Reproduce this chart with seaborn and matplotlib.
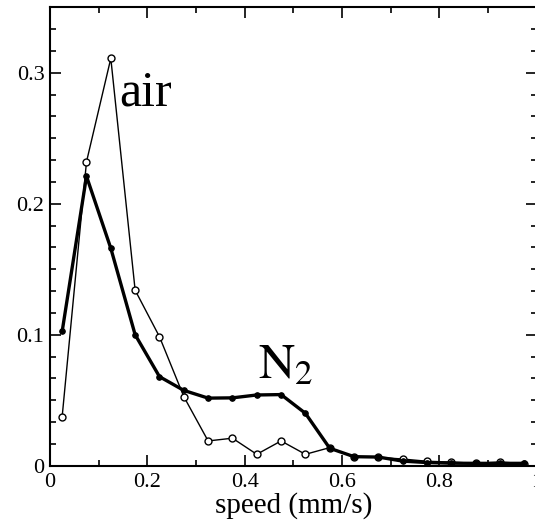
import numpy as np
import pandas as pd
import matplotlib
matplotlib.use("Agg")
import matplotlib.pyplot as plt
import seaborn as sns
from matplotlib.ticker import MultipleLocator, AutoMinorLocator, FuncFormatter

# Speed bins (bin centres, mm/s)
speed = [0.025, 0.075, 0.125, 0.175, 0.225, 0.275, 0.325, 0.375, 0.425, 0.475,
         0.525, 0.575, 0.625, 0.675, 0.725, 0.775, 0.825, 0.875, 0.925, 0.975]

# Distribution in air (open circles, thin line)
air = [0.0375, 0.232, 0.311, 0.134, 0.0985, 0.0528, 0.0189, 0.021, 0.0087, 0.0189,
       0.0087, 0.0138, 0.0064, 0.0064, 0.0051, 0.0034, 0.0028, 0.0018, 0.0028, 0.0016]

# Distribution in N2 (filled circles, thick line)
n2 = [0.1025, 0.221, 0.166, 0.100, 0.068, 0.0575, 0.0516, 0.0518, 0.054, 0.0543,
      0.040, 0.0133, 0.0069, 0.0066, 0.0035, 0.0024, 0.0019, 0.0018, 0.0018, 0.0018]

sns.set_style("ticks")
plt.rcParams['font.family'] = ['Liberation Serif', 'DejaVu Serif']
plt.rcParams['mathtext.fontset'] = 'stix'
# plain black text everywhere, like the original
for key in ['text.color', 'axes.labelcolor', 'xtick.color', 'ytick.color', 'axes.edgecolor']:
    plt.rcParams[key] = 'black'

fig = plt.figure(figsize=(5.35, 5.25), dpi=100)
# right spine sits just past the image edge, as in the reference
ax = fig.add_axes([50 / 535, 59.3 / 525, 486.5 / 535, 458.4 / 525])

sns.lineplot(x=speed, y=air, ax=ax, color='black', linewidth=1.0,
             marker='o', markersize=5, markerfacecolor='white',
             markeredgecolor='black', markeredgewidth=1.0)
sns.lineplot(x=speed, y=n2, ax=ax, color='black', linewidth=2.4,
             marker='o', markersize=4, markerfacecolor='black',
             markeredgecolor='black')

ax.set_xlim(0, 1.0)
ax.set_ylim(0, 0.35)
ax.xaxis.set_major_locator(MultipleLocator(0.2))
ax.xaxis.set_minor_locator(AutoMinorLocator(2))
ax.yaxis.set_major_locator(MultipleLocator(0.1))
ax.yaxis.set_minor_locator(AutoMinorLocator(6))
ax.xaxis.set_major_formatter(FuncFormatter(lambda v, p: '%g' % round(v, 2)))
ax.yaxis.set_major_formatter(FuncFormatter(lambda v, p: '%g' % round(v, 2)))

for side in ['left', 'right', 'top', 'bottom']:
    ax.spines[side].set_linewidth(1.5)
    ax.spines[side].set_visible(True)

ax.tick_params(which='both', direction='in', top=True, right=True, width=1.2, labelsize=16)
ax.tick_params(which='major', length=8)
ax.tick_params(which='minor', length=4)
ax.tick_params(axis='x', pad=5)
ax.tick_params(axis='y', pad=4)

ax.set_xlabel('speed (mm/s)', fontsize=21, labelpad=0)
ax.set_ylabel('')

ax.text(0.143, 0.275, 'air', fontsize=36)
ax.text(0.428, 0.067, r'$\mathrm{N}_2$', fontsize=36)

fig.savefig('out.png', dpi=100)
